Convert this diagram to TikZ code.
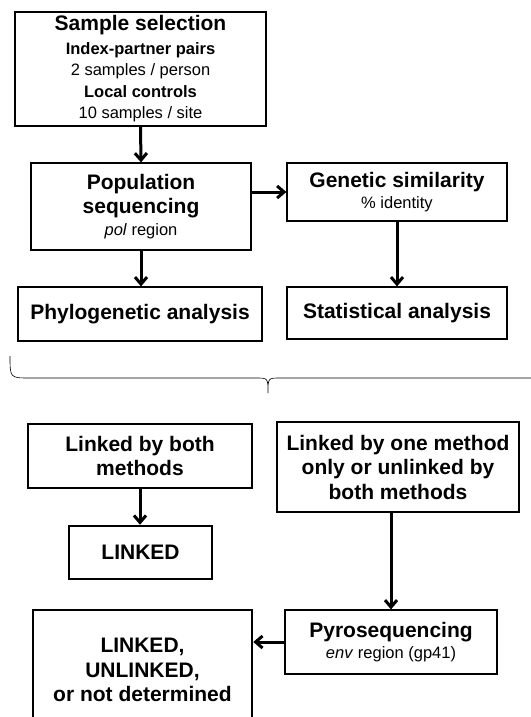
\documentclass[tikz,border=0pt]{standalone}
\usepackage{fontspec}
\setmainfont{Liberation Sans}
\usetikzlibrary{arrows.meta}

\newcommand\hd{\fontsize{21}{24.5}\selectfont\bfseries}

\begin{document}
\begin{tikzpicture}[x=1pt, y=-1pt,
    box/.style={draw, line width=1.2pt, align=center, inner sep=0pt,
      font=\fontsize{16.5}{21.5}\selectfont},
    bigbox/.style={box, line width=2.5pt},
    arr/.style={line width=3pt, -{Straight Barb[length=7pt, width=12pt]}}]
  \useasboundingbox (0, 0) rectangle (530, 717);

  % upper part
  \node[box, minimum width=251pt, minimum height=114pt] (sel) at (140.5, 69)
    {{\hd Sample selection}\\[2pt] \textbf{Index-partner pairs}\\
     2 samples / person\\ \textbf{Local controls}\\ 10 samples / site};
  \node[box, minimum width=220pt, minimum height=87pt] (pop) at (141, 206.5)
    {{\hd Population}\\[2.5pt] {\hd sequencing}\\[1pt] \textit{pol} region};
  \node[box, minimum width=220pt, minimum height=58pt] (gen) at (397, 192)
    {{\hd Genetic similarity}\\ \% identity};
  \node[box, minimum width=244pt, minimum height=54pt] (phy) at (140, 314)
    {\hd Phylogenetic analysis};
  \node[box, minimum width=220pt, minimum height=52pt] (stat) at (397, 313)
    {\hd Statistical analysis};

  \draw[arr] (sel.south) -- (pop.north);
  \draw[arr] (pop.east |- gen.west) -- (gen.west);
  \draw[arr] (pop.south) -- (pop.south |- phy.north);
  \draw[arr] (gen.south) -- (gen.south |- stat.north);

  % brace
  \draw[line width=0.6pt]
  (10, 356) .. controls (10, 378) .. (30, 378) -- (256, 378)
  .. controls (268, 378) .. (268, 393)
  .. controls (268, 378) .. (280, 378) -- (535, 378);

  % lower part
  \node[box, minimum width=224pt, minimum height=64pt,
    font=\hd] (both) at (140, 456)
    {Linked by both\\ methods};
  \node[box, minimum width=242pt, minimum height=90pt,
    font=\hd] (one) at (398, 467)
    {Linked by one method\\ only or unlinked by\\ both methods};
  \node[bigbox, minimum width=143pt, minimum height=53pt,
    font=\hd] (lnk) at (140.5, 552.5) {LINKED};
  \node[box, minimum width=212pt, minimum height=64pt] (pyro) at (391, 642)
    {{\hd Pyrosequencing}\\ \textit{env} region (gp41)};
  \node[bigbox, minimum width=219pt, minimum height=120pt,
    font=\hd] (res) at (142.5, 670)
    {LINKED,\\ UNLINKED,\\ or not determined};

  \draw[arr] (both.south) -- (both.south |- lnk.north);
  \draw[arr] (pyro.north |- one.south) -- (pyro.north);
  \draw[arr] (pyro.west) -- (pyro.west -| res.east);
\end{tikzpicture}
\end{document}
